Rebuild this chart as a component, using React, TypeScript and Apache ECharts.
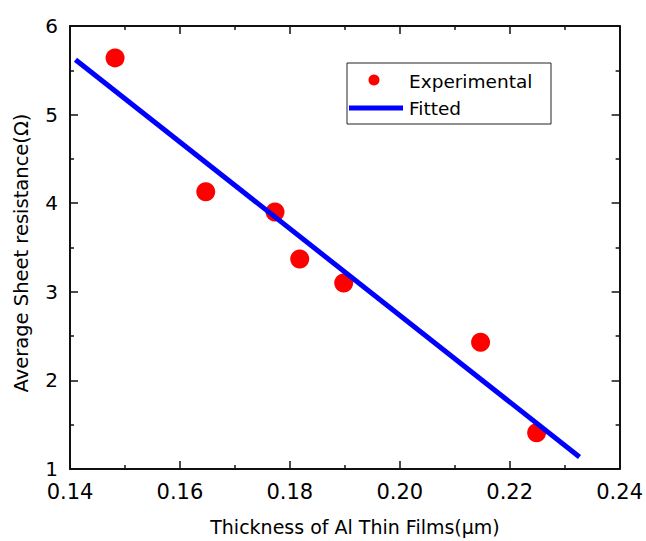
import React, { useEffect, useRef } from "react";
import * as echarts from "echarts";

const thickness = [0.1482, 0.1647, 0.1773, 0.1818, 0.1898, 0.2147, 0.2249];
const resistance = [5.64, 4.13, 3.9, 3.37, 3.1, 2.43, 1.41];
const fitX = [0.141, 0.2327];
const fitY = [5.62, 1.135];
const legendNames = ["Experimental", "Fitted"];
const xTitle = "Thickness of Al Thin Films(\u03bcm)";
const yTitle = "Average Sheet resistance(\u03a9)";

const FONT = "'DejaVu Sans', 'Liberation Sans', Arial, sans-serif";

export default function App() {
  const ref = useRef<HTMLDivElement>(null);
  useEffect(() => {
    if (!ref.current) return;
    const chart = echarts.init(ref.current, undefined, { renderer: "svg" });
    const axisCommon = {
      axisLine: { show: true, onZero: false, lineStyle: { color: "#111", width: 2 } },
      axisTick: { show: true, inside: true, length: 8, lineStyle: { color: "#111", width: 1.5 } },
      minorTick: { show: true, splitNumber: 2, length: 4, lineStyle: { color: "#111", width: 1.5 } },
      splitLine: { show: false },
      minorSplitLine: { show: false },
    };
    const xBase = { type: "value" as const, min: 0.14, max: 0.24, interval: 0.02 };
    const yBase = { type: "value" as const, min: 1, max: 6, interval: 1 };
    chart.setOption({
      animation: false,
      backgroundColor: "#fff",
      grid: { left: 70, right: 26, top: 26, bottom: 72 },
      xAxis: [
        {
          ...xBase,
          ...axisCommon,
          position: "bottom",
          axisLabel: {
            show: true,
            margin: 12,
            fontSize: 21,
            color: "#000",
            fontFamily: FONT,
            formatter: (v: number) => v.toFixed(2),
          },
        },
        {
          ...xBase,
          ...axisCommon,
          position: "top",
          axisLabel: { show: false },
        },
      ],
      yAxis: [
        {
          ...yBase,
          ...axisCommon,
          position: "left",
          axisLabel: {
            show: true,
            margin: 12,
            fontSize: 20,
            color: "#000",
            fontFamily: FONT,
          },
        },
        {
          ...yBase,
          ...axisCommon,
          position: "right",
          axisLabel: { show: false },
        },
      ],
      series: [
        {
          name: legendNames[0],
          type: "scatter",
          symbol: "circle",
          symbolSize: 19,
          itemStyle: { color: "#ff0000", opacity: 1 },
          data: thickness.map((x, i) => [x, resistance[i]]),
          z: 2,
        },
        {
          name: legendNames[1],
          type: "line",
          symbol: "none",
          lineStyle: { color: "#0000ff", width: 5 },
          data: fitX.map((x, i) => [x, fitY[i]]),
          z: 3,
        },
      ],
      graphic: [
        {
          type: "rect",
          shape: { x: 347, y: 63, width: 204, height: 61 },
          style: { fill: "#fff", stroke: "#222", lineWidth: 1 },
          z: 10,
        },
        {
          type: "circle",
          shape: { cx: 374, cy: 80, r: 5.5 },
          style: { fill: "#ff0000" },
          z: 11,
        },
        {
          type: "line",
          shape: { x1: 349, y1: 108, x2: 403, y2: 108 },
          style: { stroke: "#0000ff", lineWidth: 5 },
          z: 11,
        },
        {
          type: "text",
          x: 409,
          y: 81,
          style: {
            text: legendNames[0],
            fontSize: 18.5,
            fontFamily: FONT,
            fill: "#000",
            align: "left",
            verticalAlign: "middle",
          },
          z: 11,
        },
        {
          type: "text",
          x: 409,
          y: 108,
          style: {
            text: legendNames[1],
            fontSize: 18.5,
            fontFamily: FONT,
            fill: "#000",
            align: "left",
            verticalAlign: "middle",
          },
          z: 11,
        },
        {
          type: "text",
          x: 355,
          y: 527,
          style: {
            text: xTitle,
            fontSize: 19,
            fontFamily: FONT,
            fill: "#000",
            align: "center",
            verticalAlign: "middle",
          },
        },
        {
          type: "text",
          x: 21,
          y: 253,
          rotation: Math.PI / 2,
          style: {
            text: yTitle,
            fontSize: 19.5,
            fontFamily: FONT,
            fill: "#000",
            align: "center",
            verticalAlign: "middle",
          },
        },
      ],
    });
    return () => chart.dispose();
  }, []);
  return (
    <div
      ref={ref}
      style={{ position: "fixed", left: 0, top: 0, width: 646, height: 541, background: "#fff" }}
    />
  );
}
